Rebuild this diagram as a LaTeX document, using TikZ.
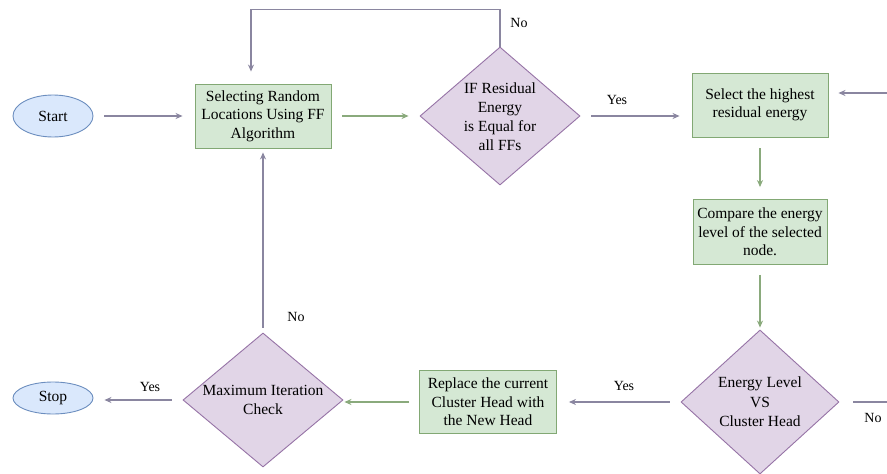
\documentclass[tikz,border=0pt]{standalone}
\usepackage{fontspec}
\setmainfont{Liberation Serif}
\usetikzlibrary{shapes.geometric,arrows.meta}
\definecolor{ellfill}{HTML}{DAE8FC}
\definecolor{elldraw}{HTML}{6C8EBF}
\definecolor{boxfill}{HTML}{D5E8D4}
\definecolor{boxdraw}{HTML}{82A874}
\definecolor{diafill}{HTML}{E1D5E7}
\definecolor{diadraw}{HTML}{9673A6}
\definecolor{lnpurple}{HTML}{8A86A0}
\definecolor{lngreen}{HTML}{8AAA7C}
\tikzset{
  txt/.style={font=\fontsize{15.5}{18.5}\selectfont, align=center},
  lbl/.style={font=\fontsize{14}{16}\selectfont, inner sep=0pt},
  term/.style={ellipse, draw=elldraw, fill=ellfill, line width=0.9pt, minimum width=80pt, inner sep=0pt, txt},
  procbox/.style={rectangle, draw=boxdraw, fill=boxfill, line width=0.9pt, inner sep=0pt, txt},
  decision/.style={diamond, draw=diadraw, fill=diafill, line width=0.9pt, inner sep=0pt},
  pl/.style={draw=lnpurple, line width=1.1pt, -{Stealth[length=7pt,width=6pt]}},
  gl/.style={draw=lngreen, line width=1.1pt, -{Stealth[length=7pt,width=6pt]}},
  plain/.style={draw=lnpurple, line width=1.1pt}
}
\begin{document}
\begin{tikzpicture}[x=1pt,y=-1pt]
\useasboundingbox (0,0) rectangle (887,474);
\fill[white] (0,0) rectangle (887,474);
% nodes
\node[term, minimum height=42pt] (start) at (53,116) {Start};
\node[term, minimum height=32pt] (stop) at (53,398) {Stop};
\node[procbox, minimum width=136pt, minimum height=64pt] (sel) at (263,116) {Selecting Random\\Locations Using FF\\Algorithm};
\node[decision, minimum width=160pt, minimum height=138pt] (d1) at (500,116) {};
\node[txt, inner sep=0pt, font=\fontsize{15.5}{19}\selectfont] (d1t) at (500,117) {IF Residual\\Energy\\is Equal for\\all FFs};
\node[procbox, minimum width=136pt, minimum height=64pt] (hi) at (760,105) {Select the highest\\residual energy};
\node[procbox, minimum width=134pt, minimum height=65pt] (cmp) at (760,232) {Compare the energy\\level of the selected\\node.};
\node[decision, minimum width=158pt, minimum height=144pt] (en) at (760,402) {};
\node[txt, inner sep=0pt, font=\fontsize{15.5}{19.5}\selectfont] (ent) at (760,402) {Energy Level\\VS\\Cluster Head};
\node[procbox, minimum width=137pt, minimum height=63pt] (rep) at (488,402) {Replace the current\\Cluster Head with\\the New Head};
\node[decision, minimum width=160pt, minimum height=134pt] (mx) at (263,400) {};
\node[txt, inner sep=0pt, font=\fontsize{15.5}{19.5}\selectfont] (mxt) at (263,400) {Maximum Iteration\\Check};
% free ends at the right edge
\coordinate (rin) at (887,93);
\coordinate (rout) at (887,402);
% connectors
\draw[pl, shorten <=11pt, shorten >=12pt] (start) -- (sel);
\draw[gl, shorten <=11pt, shorten >=11pt] (sel) -- (d1);
\draw[pl, shorten >=12pt] (d1.north) -- ++(0,-37) -| ([xshift=-12pt]sel.north);
\draw[pl, shorten <=11pt, shorten >=12pt] (d1.east) -- (d1.east -| hi.west);
\draw[pl, shorten >=10pt] (rin) -- (rin -| hi.east);
\draw[gl, shorten <=11pt, shorten >=12pt] (hi.south) -- (cmp.north);
\draw[gl, shorten <=10pt, shorten >=2pt] (cmp.south) -- (en.north);
\draw[plain, shorten <=14pt] (en.east) -- (rout);
\draw[pl, shorten <=11pt, shorten >=12pt] (en.west) -- (rep.east);
\draw[gl, shorten <=10pt, shorten >=1pt] (rep.west) -- (rep.west -| mx.east);
\draw[pl, shorten <=5pt, shorten >=4pt] (mx.north) -- (sel.south);
\draw[pl, shorten <=11pt, shorten >=11pt] (mx.west) -- (mx.west -| stop.east);
% labels
\node[lbl] (lno1) at (519,23) {No};
\node[lbl] (lyes1) at (617,100) {Yes};
\node[lbl] (lyes2) at (624,386) {Yes};
\node[lbl] (lno2) at (873,418) {No};
\node[lbl] (lno3) at (296,317) {No};
\node[lbl] (lyes3) at (150,387) {Yes};
\end{tikzpicture}
\end{document}
